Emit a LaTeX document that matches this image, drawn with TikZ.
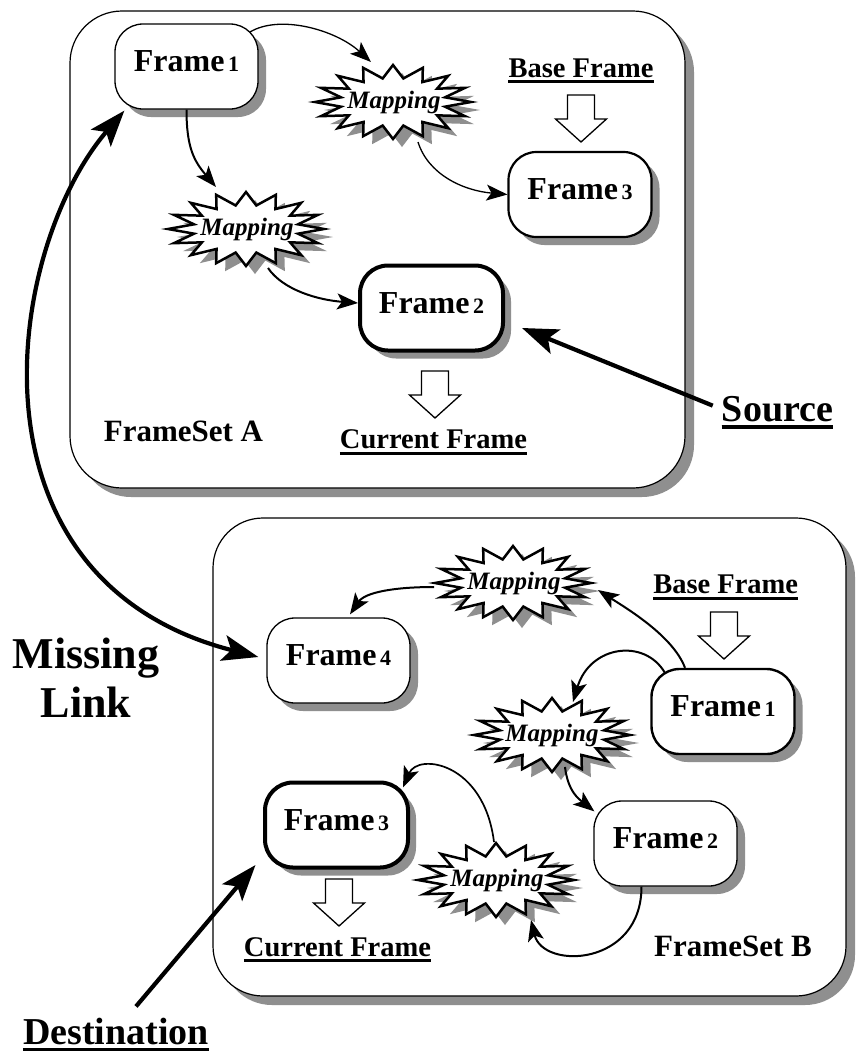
\documentclass[tikz,border=0pt]{standalone}
\usepackage{fontspec}
\setmainfont{Liberation Serif}
\usetikzlibrary{arrows.meta,shadows}
\definecolor{shadowgray}{RGB}{143,143,143}
\newcommand\fr[1]{Frame\hspace{3.5pt}{\fontsize{22}{22}\selectfont #1}}
\newcommand\mapstar[1]{%
  \fill[shadowgray, shift={#1}, shift={(9,8)}] (0,37)
    \foreach \k in {1,...,31}{ -- ({(65.5+12.5*cos(\k*180))*cos(90+\k*11.25)}, {(30.5+6.5*cos(\k*180))*sin(90+\k*11.25)}) } -- cycle;
  \draw[line width=2.5pt, fill=white, line join=miter, shift={#1}] (0,37)
    \foreach \k in {1,...,31}{ -- ({(65.5+12.5*cos(\k*180))*cos(90+\k*11.25)}, {(30.5+6.5*cos(\k*180))*sin(90+\k*11.25)}) } -- cycle;
}
\tikzset{
  frame/.style={draw, rounded corners=28pt, minimum width=143pt, minimum height=85pt,
    fill=white, font=\bfseries\fontsize{32}{32}\selectfont, text depth=10pt, inner sep=0pt,
    line width=1.3pt, general shadow={fill=shadowgray, shadow xshift=8pt, shadow yshift=-8pt}},
  maptext/.style={inner sep=0pt, font=\bfseries\itshape\fontsize{25}{25}\selectfont},
  ul/.style={anchor=base, inner sep=0pt, text depth=4.5pt,
    append after command={(\tikzlastnode.south west) edge[line width=3pt, -] (\tikzlastnode.south east)}},
  lbl/.style={font=\bfseries\fontsize{28.5}{28.5}\selectfont},
  conn/.style={-{Stealth[length=21pt,width=16pt,inset=5pt]}, line width=1.3pt},
  connm/.style={conn, line width=2pt},
  bigarrow/.style={-{Stealth[length=36pt,width=26pt,inset=8pt]}, line width=4.2pt},
  hollow/.pic={\draw[line width=1.3pt, fill=white, line join=miter] (-13.5,0) -- (13.5,0) -- (13.5,24) -- (25.5,24) -- (0,47) -- (-25.5,24) -- (-13.5,24) -- cycle;}
}
\begin{document}
\begin{tikzpicture}[x=1pt,y=-1pt]
\useasboundingbox (0,0) rectangle (855,1053);
\fill[white] (0,0) rectangle (855,1053);
% outer boxes
\fill[shadowgray, rounded corners=52pt] (79,20) rectangle (694,497);
\draw[fill=white, rounded corners=52pt, line width=1.2pt] (70,11) rectangle (685,488);
\fill[shadowgray, rounded corners=50pt] (222,527) rectangle (855,1005);
\draw[fill=white, rounded corners=50pt, line width=1.2pt] (213,518) rectangle (846,996);

% frames
\node[frame] (f1a) at (186.5,66.5) {\fr1};
\node[frame, line width=2.2pt] (f3a) at (580,194.5) {\fr3};
\node[frame, line width=4pt] (f2a) at (431.5,308) {\fr2};
\node[frame] (f4b) at (338.5,660.5) {\fr4};
\node[frame, line width=2.4pt] (f1b) at (723,711.5) {\fr1};
\node[frame, line width=4pt] (f3b) at (336.5,825) {\fr3};
\node[frame] (f2b) at (665.5,843.5) {\fr2};

% mapping stars
\mapstar{(393,102)} \node[maptext] (mA1) at (394,102) {Mapping};
\mapstar{(246,229)} \node[maptext] (mA2) at (247,229) {Mapping};
\mapstar{(513,583)} \node[maptext] (mB1) at (514,583) {Mapping};
\mapstar{(552,735)} \node[maptext] (mB2) at (552,735) {Mapping};
\mapstar{(496,880)} \node[maptext] (mB3) at (497,880) {Mapping};

% hollow arrows
\pic at (581,95) {hollow};
\pic at (435,371) {hollow};
\pic at (724,612) {hollow};
\pic at (339,879) {hollow};

% labels
\node[ul, lbl] (bfa) at (581,77) {Base Frame};
\node[ul, lbl] (cfa) at (433.5,448.3) {Current Frame};
\node[ul, lbl] (bfb) at (725.7,593.3) {Base Frame};
\node[ul, lbl] (cfb) at (337.5,956) {Current Frame};
\node[anchor=base, inner sep=0pt, font=\bfseries\fontsize{31}{31}\selectfont] (fsa) at (183.5,441) {FrameSet A};
\node[anchor=base, inner sep=0pt, font=\bfseries\fontsize{31}{31}\selectfont] (fsb) at (733,956.7) {FrameSet B};
\node[ul, font=\bfseries\fontsize{38}{38}\selectfont, text depth=5pt, append after command={(\tikzlastnode.south west) edge[line width=3.5pt, -] (\tikzlastnode.south east)}] (src) at (777.5,421.7) {Source};
\node[ul, font=\bfseries\fontsize{38}{38}\selectfont, text depth=5pt] (dest) at (116,1044) {Destination};
\node[anchor=base, inner sep=0pt, font=\bfseries\fontsize{44}{44}\selectfont] (ml1) at (86,668) {Missing};
\node[anchor=base, inner sep=0pt, font=\bfseries\fontsize{44}{44}\selectfont] (ml2) at (86,717) {Link};

% connectors in FrameSet A
\draw[conn] ([shift={(63.5,-34.5)}]f1a.center) .. controls +(30,-18) and +(-35,-32) .. ([shift={(-23,-40)}]mA1.center);
\draw[connm] (f1a.south) .. controls +(0,38) and +(-22,-26) .. ([shift={(-31,-42)}]mA2.center);
\draw[conn] ([shift={(24,40)}]mA1.center) .. controls +(10,32) and +(-45,-4) .. (f3a.west);
\draw[connm] ([shift={(21,39)}]mA2.center) .. controls +(15,22) and +(-40,-3) .. ([yshift=5pt]f2a.west);

% connectors in FrameSet B
\draw[connm] ([xshift=-38pt]f1b.north) .. controls +(-12,-32) and +(28,18) .. ([shift={(84,7)}]mB1.center);
\draw[connm] ([shift={(-80,4)}]mB1.center) .. controls +(-40,0) and +(15,-22) .. ([shift={(11.5,-3)}]f4b.north);
\draw[connm] ([shift={(-58,-38.5)}]f1b.center) .. controls +(-20,-35) and +(17,-57) .. ([shift={(21,-33)}]mB2.center);
\draw[connm] ([shift={(13,32)}]mB2.center) .. controls +(3,25) and +(-15,-12) .. ([shift={(1,11)}]f2b.north west);
\draw[connm] ([xshift=-24pt]f2b.south) .. controls +(0,80) and +(12,50) .. ([shift={(34,40)}]mB3.center);
\draw[conn, line width=1.7pt] ([shift={(-3,-38)}]mB3.center) .. controls +(-10,-80) and +(15,-35) .. ([shift={(-7,7)}]f3b.north east);

% big arrows
\draw[bigarrow, {Stealth[length=36pt,width=26pt,inset=8pt]}-{Stealth[length=36pt,width=26pt,inset=8pt]}] ([shift={(10,1)}]f1a.south west) .. controls +(-120,140) and +(-300,-77) .. ([shift={(-8,-3.5)}]f4b.west);
\draw[bigarrow] ([shift={(-9,-6)}]src.west) -- ([shift={(17,20)}]f2a.east);
\draw[bigarrow] ([shift={(20,-11)}]dest.north) -- ([shift={(-7.5,-4.5)}]f3b.south west);
\end{tikzpicture}
\end{document}
